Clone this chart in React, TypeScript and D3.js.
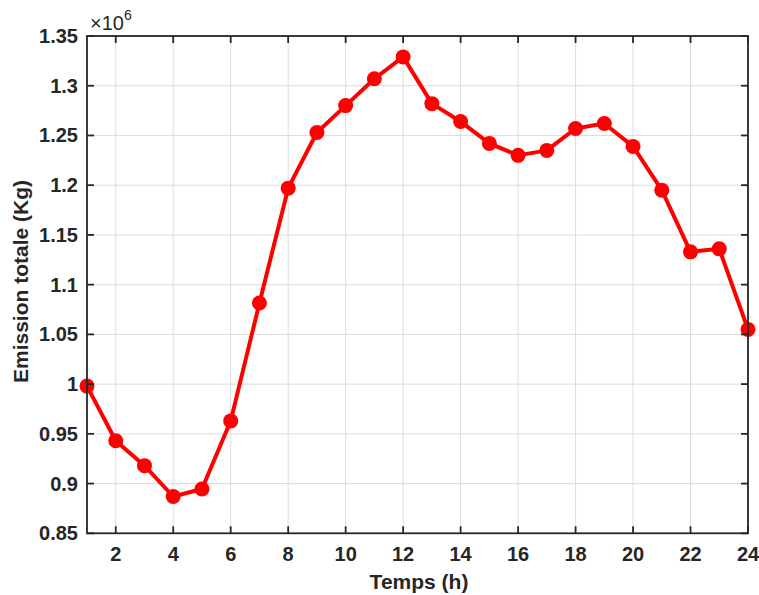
import React from "react";
import * as d3 from "d3";

const hours = [1, 2, 3, 4, 5, 6, 7, 8, 9, 10, 11, 12, 13, 14, 15, 16, 17, 18, 19, 20, 21, 22, 23, 24];
const emission = [0.998, 0.943, 0.918, 0.887, 0.8945, 0.963, 1.0815, 1.197, 1.253, 1.28, 1.307, 1.329, 1.282, 1.264, 1.242, 1.23, 1.235, 1.257, 1.262, 1.239, 1.195, 1.133, 1.136, 1.055];
const xTicks = [2, 4, 6, 8, 10, 12, 14, 16, 18, 20, 22, 24];
const yTicks = [0.85, 0.9, 0.95, 1, 1.05, 1.1, 1.15, 1.2, 1.25, 1.3, 1.35];
const xLabel = "Temps (h)";
const yLabel = "Emission totale (Kg)";

export default function App() {
  const W = 759, H = 595;
  const left = 87, right = 748, top = 36, bottom = 533.3;
  const x = d3.scaleLinear().domain([1, 24]).range([left, right]);
  const y = d3.scaleLinear().domain([0.85, 1.35]).range([bottom, top]);
  const line = d3.line<number>().x((_, i) => x(hours[i])).y((d) => y(d));
  const axisColor = "#262626";
  const font = "'Liberation Sans', Arial, Helvetica, sans-serif";
  const tickLen = 7;
  const fmt = (v: number) => String(+v.toFixed(2));
  return (
    <svg width={W} height={H} style={{ position: "absolute", left: 0, top: 0, background: "#fff" }} fontFamily={font}>
      <rect x={0} y={0} width={W} height={H} fill="#fff" />
      {/* grid */}
      {xTicks.map((t) => (
        <line key={"gx" + t} x1={x(t)} x2={x(t)} y1={top} y2={bottom} stroke="#dcdcdc" strokeWidth={1} />
      ))}
      {yTicks.map((t) => (
        <line key={"gy" + t} x1={left} x2={right} y1={y(t)} y2={y(t)} stroke="#dcdcdc" strokeWidth={1} />
      ))}
      {/* data */}
      <path d={line(emission) || ""} fill="none" stroke="#ff0000" strokeWidth={4} strokeLinejoin="round" />
      {emission.map((v, i) => (
        <circle key={"p" + i} cx={x(hours[i])} cy={y(v)} r={7.5} fill="#ff0000" />
      ))}
      {/* box */}
      <rect x={left} y={top} width={right - left} height={bottom - top} fill="none" stroke={axisColor} strokeWidth={1.8} />
      {/* ticks */}
      {xTicks.map((t) => (
        <g key={"tx" + t}>
          <line x1={x(t)} x2={x(t)} y1={bottom} y2={bottom - tickLen} stroke={axisColor} strokeWidth={1.8} />
          <line x1={x(t)} x2={x(t)} y1={top} y2={top + tickLen} stroke={axisColor} strokeWidth={1.8} />
          <text x={x(t)} y={561} textAnchor="middle" fontSize={20} fontWeight="bold" fill={axisColor}>{t}</text>
        </g>
      ))}
      {yTicks.map((t) => (
        <g key={"ty" + t}>
          <line x1={left} x2={left + tickLen} y1={y(t)} y2={y(t)} stroke={axisColor} strokeWidth={1.8} />
          <line x1={right} x2={right - tickLen} y1={y(t)} y2={y(t)} stroke={axisColor} strokeWidth={1.8} />
          <text x={78} y={y(t) + 7} textAnchor="end" fontSize={20} fontWeight="bold" fill={axisColor}>{fmt(t)}</text>
        </g>
      ))}
      {/* exponent */}
      <text x={90} y={30} fontSize={20} fill={axisColor}>
        <tspan fontSize={20}>×10</tspan>
        <tspan dy={-10} fontSize={14}>6</tspan>
      </text>
      {/* axis labels */}
      <text x={419} y={589} textAnchor="middle" fontSize={21} fontWeight="bold" fill={axisColor}>{xLabel}</text>
      <text transform={`translate(27.5, 281.5) rotate(-90)`} textAnchor="middle" fontSize={21} fontWeight="bold" fill={axisColor}>{yLabel}</text>
    </svg>
  );
}
